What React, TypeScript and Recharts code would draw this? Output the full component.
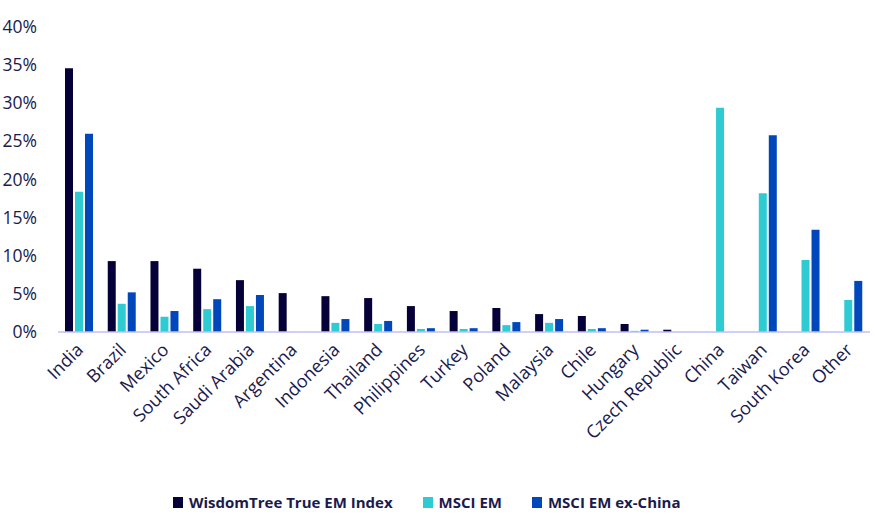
import { BarChart, Bar, XAxis, YAxis, Legend } from "recharts";

const countries = [
  "India", "Brazil", "Mexico", "South Africa", "Saudi Arabia", "Argentina",
  "Indonesia", "Thailand", "Philippines", "Turkey", "Poland", "Malaysia",
  "Chile", "Hungary", "Czech Republic", "China", "Taiwan", "South Korea", "Other",
];
const wisdomTree = [34.6, 9.3, 9.3, 8.3, 6.8, 5.1, 4.7, 4.45, 3.4, 2.75, 3.15, 2.35, 2.1, 1.05, 0.3, null, null, null, null];
const msciEm = [18.4, 3.7, 2.0, 3.0, 3.4, null, 1.2, 1.05, 0.4, 0.4, 0.9, 1.2, 0.4, 0.15, null, 29.4, 18.2, 9.45, 4.2];
const msciExChina = [26.0, 5.2, 2.75, 4.3, 4.85, null, 1.7, 1.45, 0.5, 0.5, 1.3, 1.7, 0.5, 0.3, null, null, 25.8, 13.4, 6.7];
const yTicks = [0, 5, 10, 15, 20, 25, 30, 35, 40];

const series = [
  { key: "wt", name: "WisdomTree True EM Index", color: "#050038" },
  { key: "em", name: "MSCI EM", color: "#2ECBD3" },
  { key: "exc", name: "MSCI EM ex-China", color: "#0047BB" },
];

const data = countries.map((c, i) => ({
  country: c,
  wt: wisdomTree[i],
  em: msciEm[i],
  exc: msciExChina[i],
}));

const FONT = "'Open Sans', sans-serif";
const TEXT = "#1b1a4d";

function XTick({ x, y, payload }: any) {
  return (
    <text
      transform={`translate(${x + 5},${y + 11}) rotate(-45)`}
      textAnchor="end"
      fontFamily={FONT}
      fontSize={18}
      fill={TEXT}
    >
      {payload.value}
    </text>
  );
}

function YTick({ y, payload }: any) {
  return (
    <text x={37} y={y + 6} textAnchor="end" fontFamily={FONT} fontSize={17.5} fill={TEXT}>
      {payload.value}%
    </text>
  );
}

function LegendBox() {
  return (
    <div style={{ display: "flex", alignItems: "center", fontFamily: FONT, fontWeight: 700, fontSize: 15, color: TEXT }}>
      {series.map((s) => (
        <div key={s.key} style={{ display: "flex", alignItems: "center", marginRight: 30 }}>
          <span style={{ display: "inline-block", width: 10, height: 11, background: s.color, marginRight: 6 }} />
          <span>{s.name}</span>
        </div>
      ))}
    </div>
  );
}

export default function App() {
  return (
    <div style={{ position: "absolute", left: 0, top: 0, background: "#fff" }}>
      <BarChart
        width={875}
        height={516}
        data={data}
        margin={{ top: 27, right: 5, bottom: 0, left: 0 }}
        barSize={8}
        barGap={2}
      >
        <XAxis
          dataKey="country"
          interval={0}
          height={164}
          tick={<XTick />}
          tickLine={false}
          axisLine={{ stroke: "#BFBFF5", strokeWidth: 1.5 }}
        />
        <YAxis
          width={58}
          domain={[0, 40]}
          ticks={yTicks}
          tick={<YTick />}
          tickLine={false}
          axisLine={false}
        />
        <Legend
          content={<LegendBox />}
          wrapperStyle={{ left: 173, top: 492, width: "auto" }}
        />
        {series.map((s) => (
          <Bar key={s.key} dataKey={s.key} name={s.name} fill={s.color} isAnimationActive={false} />
        ))}
      </BarChart>
    </div>
  );
}
